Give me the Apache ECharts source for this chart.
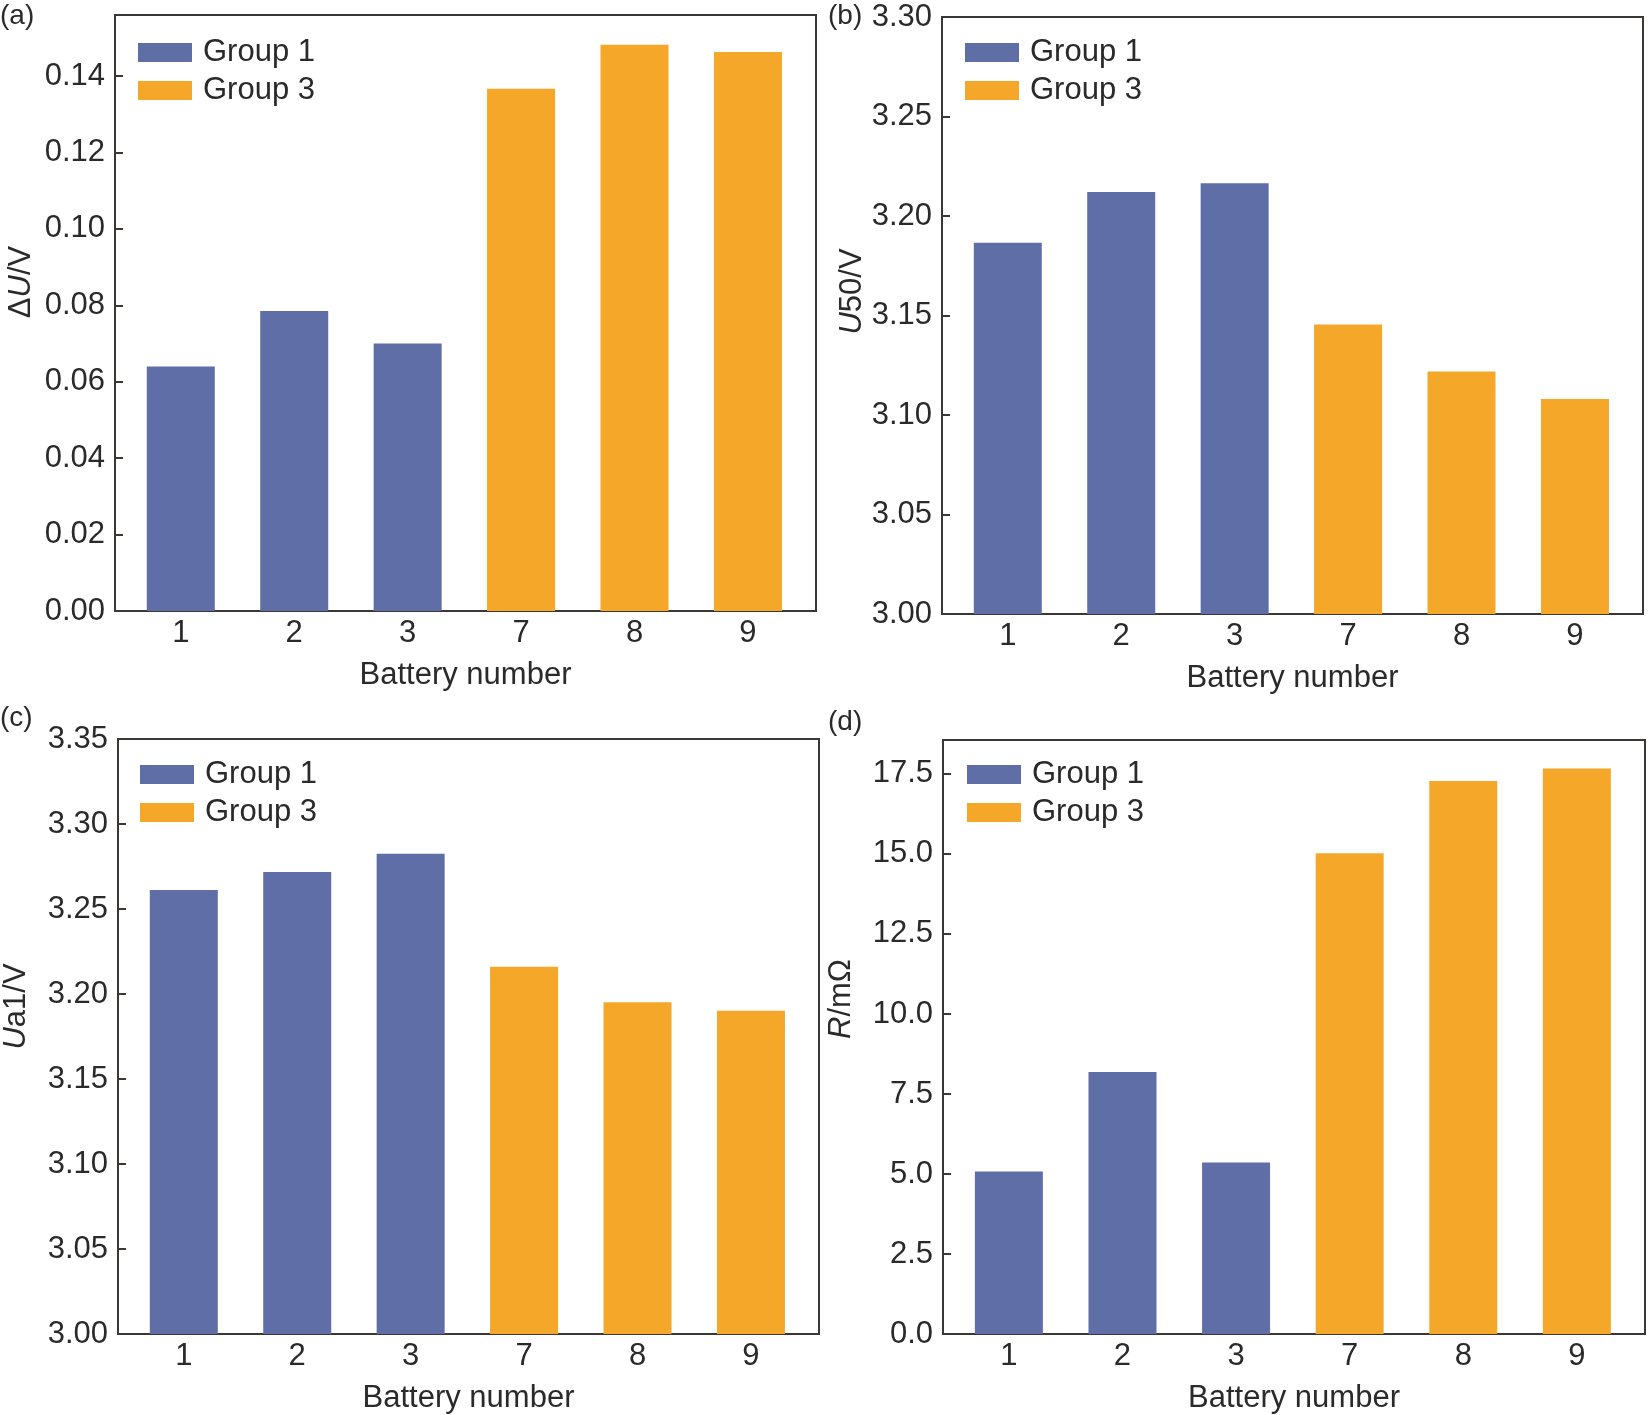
<!DOCTYPE html>
<html>
<head>
<meta charset="utf-8">
<script src="https://cdn.jsdelivr.net/npm/echarts@6/dist/echarts.min.js"></script>
<style>
html,body{margin:0;padding:0;background:#fff;}
#chart{width:1649px;height:1415px;}
</style>
</head>
<body>
<div id="chart"></div>
<script>
const categories = ['1', '2', '3', '7', '8', '9'];
const group1Idx = [1, 2, 3];
const group3Idx = [4, 5, 6];

const deltaU_g1 = [0.0640, 0.0785, 0.0700];
const deltaU_g3 = [0.1367, 0.1482, 0.1463];

const u50_g1 = [3.1866, 3.2121, 3.2164];
const u50_g3 = [3.1455, 3.1218, 3.1080];

const ua1_g1 = [3.2612, 3.2718, 3.2825];
const ua1_g3 = [3.2160, 3.1951, 3.1901];

const r_g1 = [5.08, 8.19, 5.36];
const r_g3 = [15.02, 17.28, 17.67];

const yTicksA = {min: 0, max: 0.156, interval: 0.02, digits: 2};
const yTicksB = {min: 3.00, max: 3.30, interval: 0.05, digits: 2};
const yTicksC = {min: 3.00, max: 3.35, interval: 0.05, digits: 2};
const yTicksD = {min: 0, max: 18.56, interval: 2.5, digits: 1};

const BLUE = '#5f6ea6';
const ORANGE = '#f5a72a';
const AXIS = '#3b3734';
const TEXT = '#2a2a2a';
const FONT = '"Liberation Sans", Arial, Helvetica, sans-serif';
const FS = 31;

const grids = [
  {left: 115, top: 15, width: 701, height: 596},
  {left: 942, top: 17, width: 701, height: 597},
  {left: 116, top: 739, width: 703, height: 597},
  {left: 943, top: 740, width: 702, height: 596}
];

const yNames = [
  {name: '{n|Δ}{i|U}{n|/V}', gap: 78, shift: 31},
  {name: '{i|U}{n|50/V}', gap: 72, shift: 24},
  {name: '{i|U}{n|a1/V}', gap: 86, shift: 30},
  {name: '{i|R}{n|/mΩ}', gap: 86, shift: 38}
];
const yTicks = [yTicksA, yTicksB, yTicksC, yTicksD];
const g1Data = [deltaU_g1, u50_g1, ua1_g1, r_g1];
const g3Data = [deltaU_g3, u50_g3, ua1_g3, r_g3];
const legendPos = [
  {left: 133, top: 32},
  {left: 960, top: 32},
  {left: 135, top: 754},
  {left: 962, top: 754}
];
const panelLabels = [
  {text: '(a)', x: 0, y: 2},
  {text: '(b)', x: 828, y: 2},
  {text: '(c)', x: 0, y: 704},
  {text: '(d)', x: 828, y: 708}
];

const xTickValues = categories.map((c, i) => i + 1);

const option = {
  backgroundColor: '#fff',
  animation: false,
  textStyle: {fontFamily: FONT, color: TEXT},
  grid: grids.map(g => Object.assign({show: true, borderColor: AXIS, borderWidth: 2, backgroundColor: 'transparent', containLabel: false}, g)),
  legend: legendPos.map(p => ({
    left: p.left, top: p.top, orient: 'vertical',
    data: ['Group 1', 'Group 3'],
    icon: 'rect', itemWidth: 54, itemHeight: 19, itemGap: 7,
    textStyle: {fontFamily: FONT, fontSize: FS, color: TEXT, lineHeight: FS, padding: [0, 0, 0, 6]},
    selectedMode: false
  })),
  xAxis: grids.map((g, i) => ({
    type: 'value', gridIndex: i, min: 0.42, max: 6.6,
    name: 'Battery number', nameLocation: 'middle', nameGap: 49,
    nameTextStyle: {fontFamily: FONT, fontSize: FS, color: TEXT},
    axisLine: {show: true, lineStyle: {color: AXIS, width: 2}},
    axisTick: {show: true, inside: true, length: 8, lineStyle: {color: AXIS, width: 2}, customValues: xTickValues},
    axisLabel: {show: true, fontFamily: FONT, fontSize: FS, color: TEXT, margin: 7, customValues: xTickValues,
      formatter: v => categories[Math.round(v) - 1] || ''},
    splitLine: {show: false}
  })),
  yAxis: grids.map((g, i) => ({
    type: 'value', gridIndex: i,
    min: yTicks[i].min, max: yTicks[i].max, interval: yTicks[i].interval,
    name: yNames[i].name, nameLocation: 'middle', nameGap: yNames[i].gap, nameRotate: 90,
    nameTextStyle: {
      fontFamily: FONT, fontSize: FS, color: TEXT,
      padding: [0, 0, 0, yNames[i].shift * 2],
      rich: {
        i: {fontFamily: FONT, fontSize: FS, fontStyle: 'italic', color: TEXT},
        n: {fontFamily: FONT, fontSize: FS, color: TEXT}
      }
    },
    axisLine: {show: true, lineStyle: {color: AXIS, width: 2}},
    axisTick: {show: true, inside: true, length: 8, lineStyle: {color: AXIS, width: 2}},
    axisLabel: {show: true, fontFamily: FONT, fontSize: FS, color: TEXT, margin: 10,
      showMaxLabel: (i === 1 || i === 2),
      formatter: v => Number(v).toFixed(yTicks[i].digits)},
    splitLine: {show: false}
  })),
  graphic: panelLabels.map(p => ({
    type: 'text', left: p.x, top: p.y,
    style: {text: p.text, fontFamily: FONT, fontSize: 28, fill: TEXT}
  })),
  series: []
};

grids.forEach((g, i) => {
  option.series.push({
    name: 'Group 1', type: 'bar', xAxisIndex: i, yAxisIndex: i,
    barWidth: 68, barGap: '-100%',
    itemStyle: {color: BLUE},
    data: g1Data[i].map((v, k) => [group1Idx[k], v])
  });
  option.series.push({
    name: 'Group 3', type: 'bar', xAxisIndex: i, yAxisIndex: i,
    barWidth: 68, barGap: '-100%',
    itemStyle: {color: ORANGE},
    data: g3Data[i].map((v, k) => [group3Idx[k], v])
  });
});

const chart = echarts.init(document.getElementById('chart'), null, {renderer: 'canvas'});
chart.setOption(option);
</script>
</body>
</html>
